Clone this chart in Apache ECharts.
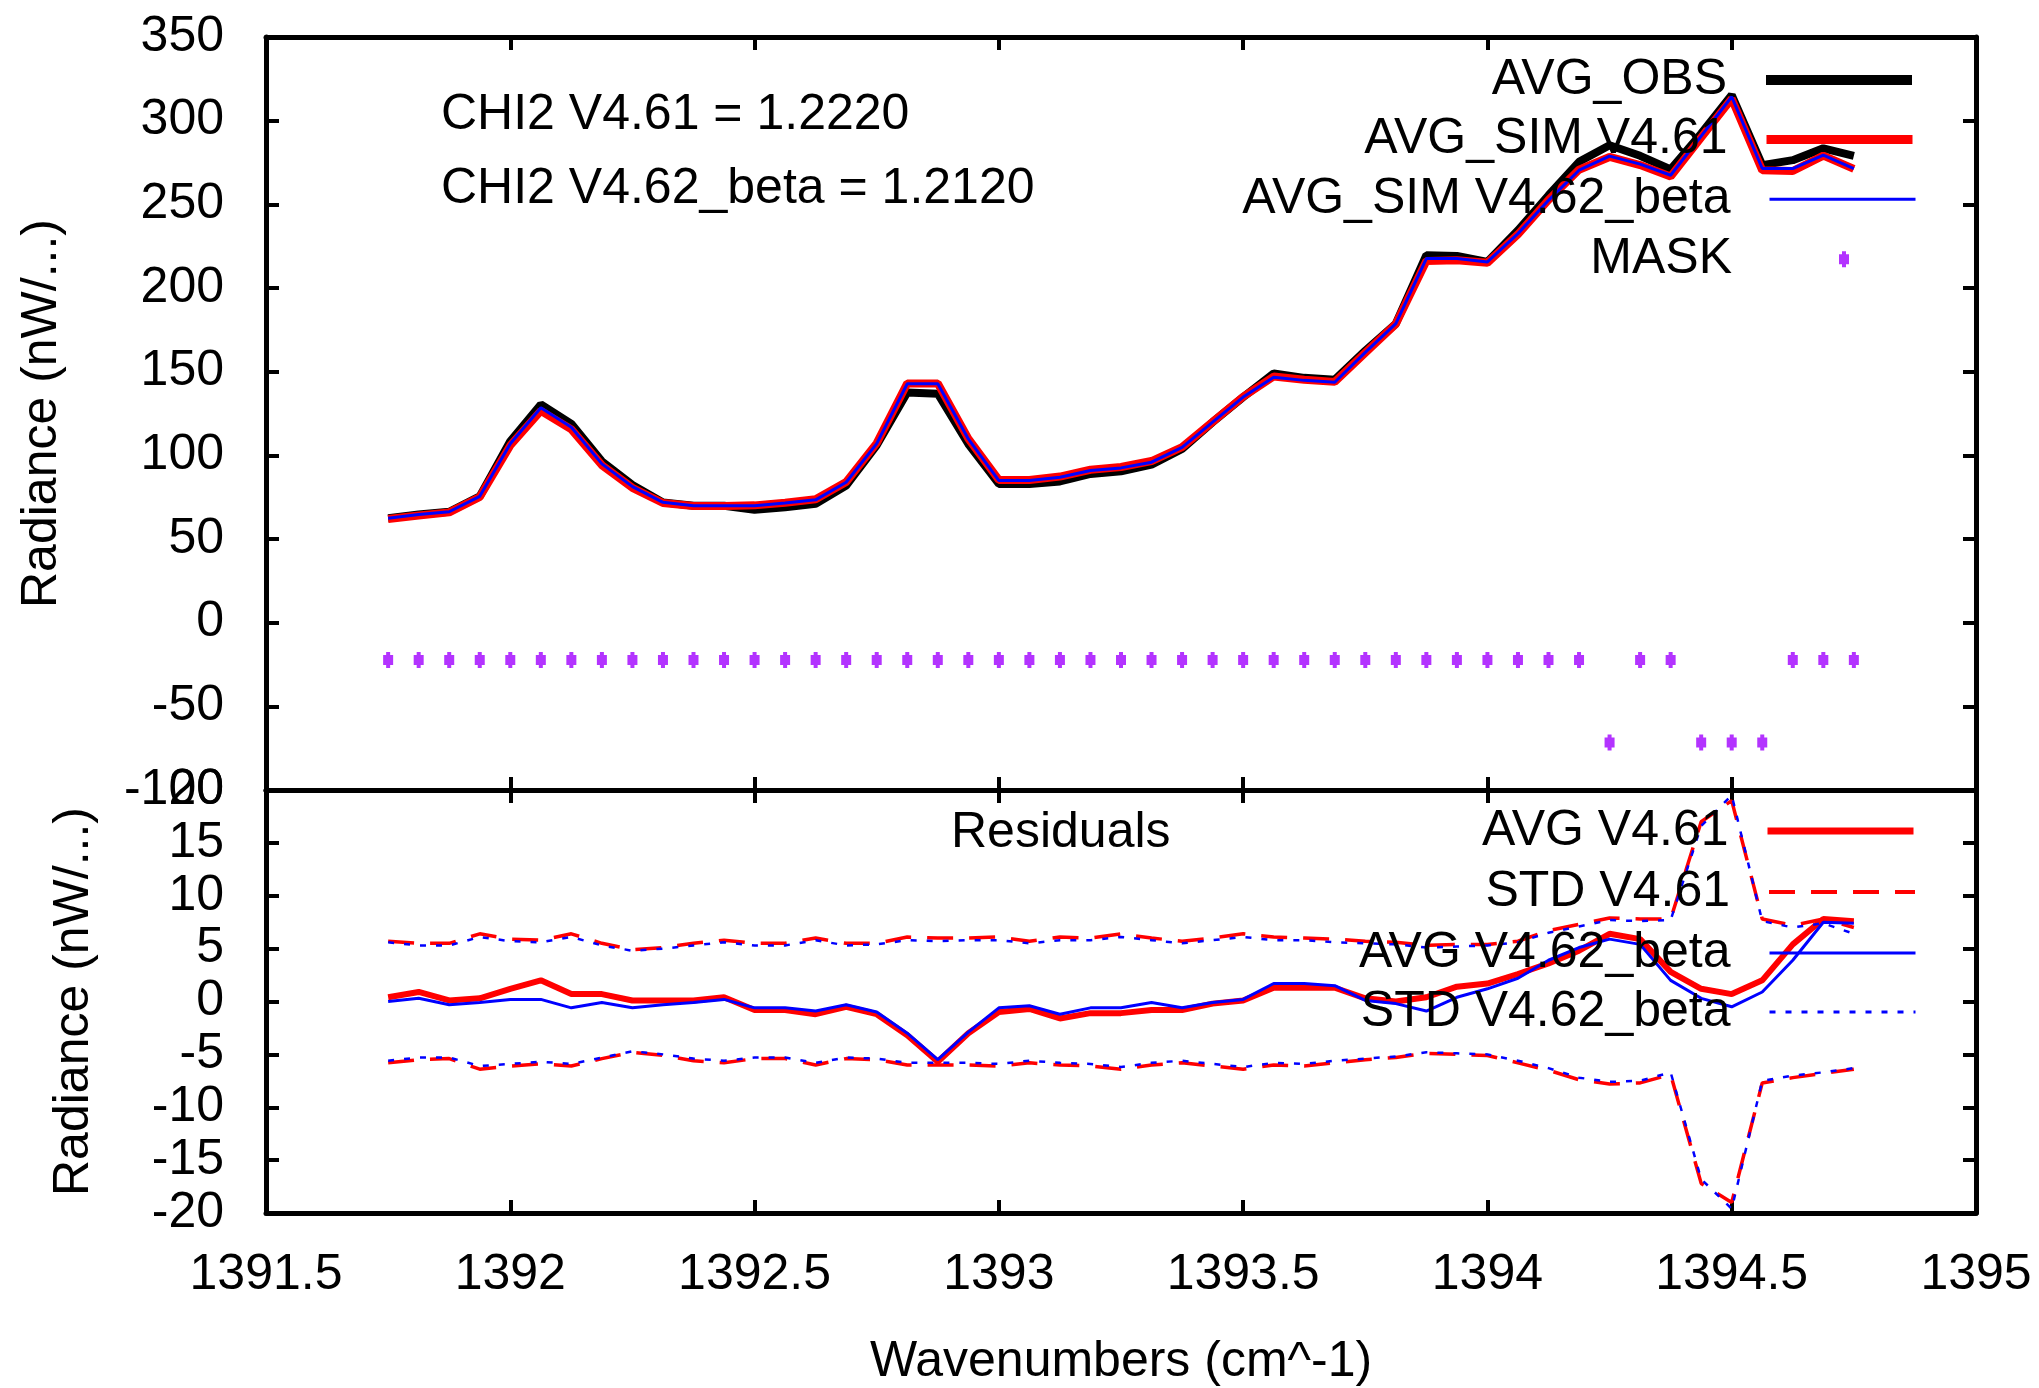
<!DOCTYPE html>
<html>
<head>
<meta charset="utf-8">
<script src="https://cdn.jsdelivr.net/npm/echarts@6/dist/echarts.min.js"></script>
<style>
html,body{margin:0;padding:0;background:#fff;}
#chart{width:2039px;height:1388px;}
</style>
</head>
<body>
<div id="chart"></div>
<script>
// ---------------- DATA ----------------
const wavenumbers = [1391.75, 1391.8125, 1391.875, 1391.9375, 1392.0, 1392.0625, 1392.125, 1392.1875, 1392.25, 1392.3125,
  1392.375, 1392.4375, 1392.5, 1392.5625, 1392.625, 1392.6875, 1392.75, 1392.8125, 1392.875, 1392.9375,
  1393.0, 1393.0625, 1393.125, 1393.1875, 1393.25, 1393.3125, 1393.375, 1393.4375, 1393.5, 1393.5625,
  1393.625, 1393.6875, 1393.75, 1393.8125, 1393.875, 1393.9375, 1394.0, 1394.0625, 1394.125, 1394.1875,
  1394.25, 1394.3125, 1394.375, 1394.4375, 1394.5, 1394.5625, 1394.625, 1394.6875, 1394.75];

const avgObs = [62.4, 64.6, 66.3, 75.5, 108.4, 130.4, 118.8, 96.4, 82.3, 71.9,
  69.9, 69.9, 67.4, 69.0, 71.0, 81.9, 106.0, 137.5, 136.8, 106.8,
  82.9, 82.9, 84.4, 88.9, 90.5, 94.4, 103.8, 119.8, 134.8, 148.9,
  146.3, 145.2, 162.5, 178.7, 219.6, 219.1, 215.6, 234.5, 255.4, 275.4,
  285.3, 279.0, 270.9, 292.3, 315.3, 273.4, 276.4, 283.5, 279.0];

const avgSimV461 = [62.0, 64.0, 65.9, 75.1, 105.9, 126.6, 115.5, 94.1, 80.6, 71.5,
  69.7, 69.7, 70.1, 71.7, 73.7, 84.1, 107.3, 143.0, 143.0, 110.0,
  85.3, 85.2, 87.3, 91.4, 93.0, 96.6, 104.9, 120.0, 135.0, 147.1,
  145.2, 143.9, 161.3, 178.5, 216.2, 216.6, 215.1, 232.1, 252.7, 270.7,
  278.3, 273.5, 266.6, 289.9, 313.1, 270.3, 269.9, 279.1, 271.2];

const avgSimV462 = [62.4, 64.6, 66.3, 75.5, 106.9, 128.4, 116.8, 94.9, 81.3, 71.9,
  69.9, 69.9, 69.9, 71.5, 73.4, 83.9, 107.0, 142.8, 142.8, 109.8,
  84.9, 84.9, 86.9, 90.9, 92.5, 95.9, 104.8, 119.8, 134.8, 146.7,
  144.8, 143.7, 161.5, 178.7, 217.6, 217.6, 215.6, 232.5, 252.4, 270.4,
  278.8, 274.0, 267.4, 290.8, 314.3, 271.4, 271.4, 279.4, 271.4];

const mask = [-22.3, -22.3, -22.3, -22.3, -22.3, -22.3, -22.3, -22.3, -22.3, -22.3,
  -22.3, -22.3, -22.3, -22.3, -22.3, -22.3, -22.3, -22.3, -22.3, -22.3,
  -22.3, -22.3, -22.3, -22.3, -22.3, -22.3, -22.3, -22.3, -22.3, -22.3,
  -22.3, -22.3, -22.3, -22.3, -22.3, -22.3, -22.3, -22.3, -22.3, -22.3,
  -71.6, -22.3, -22.3, -71.6, -71.6, -71.6, -22.3, -22.3, -22.3];

const resAvgV461 = [0.4, 0.9, 0.1, 0.3, 1.2, 2.0, 0.7, 0.7, 0.1, 0.1,
  0.1, 0.4, -0.8, -0.8, -1.2, -0.5, -1.2, -3.2, -5.7, -3.0,
  -1.0, -0.7, -1.6, -1.1, -1.1, -0.8, -0.8, -0.2, 0.1, 1.3,
  1.3, 1.3, 0.3, 0.0, 0.4, 1.4, 1.7, 2.6, 3.6, 4.8,
  6.4, 5.9, 2.8, 1.2, 0.7, 2.0, 5.4, 7.8, 7.6];

const resStdV461Up = [5.7, 5.5, 5.5, 6.4, 5.9, 5.8, 6.4, 5.5, 4.9, 5.1,
  5.5, 5.8, 5.5, 5.5, 6.0, 5.5, 5.5, 6.1, 6.0, 6.0,
  6.1, 5.7, 6.1, 6.0, 6.4, 6.0, 5.7, 6.0, 6.4, 6.1,
  6.0, 5.9, 5.7, 5.6, 5.3, 5.4, 5.4, 5.7, 6.7, 7.3,
  7.9, 7.8, 7.8, 17.0, 19.0, 7.8, 7.2, 7.8, 7.0];

const resStdV461Lo = [-5.8, -5.5, -5.4, -6.4, -6.1, -5.9, -6.1, -5.4, -4.8, -5.1,
  -5.6, -5.8, -5.4, -5.4, -6.0, -5.4, -5.5, -6.0, -6.0, -6.0,
  -6.1, -5.8, -6.0, -6.1, -6.4, -6.0, -5.8, -6.1, -6.4, -6.0,
  -6.1, -5.8, -5.5, -5.3, -4.9, -5.0, -5.1, -5.8, -6.5, -7.4,
  -7.8, -7.7, -6.9, -17.2, -19.0, -7.7, -7.2, -6.8, -6.4];

const resAvgV462 = [0.0, 0.3, -0.3, -0.1, 0.2, 0.2, -0.6, -0.1, -0.6, -0.3,
  -0.1, 0.2, -0.6, -0.6, -0.9, -0.3, -1.0, -3.0, -5.5, -2.9,
  -0.6, -0.4, -1.2, -0.6, -0.6, -0.1, -0.6, -0.1, 0.2, 1.7,
  1.7, 1.5, 0.1, -0.2, -0.9, 0.4, 1.2, 2.2, 3.9, 5.1,
  5.9, 5.4, 2.0, 0.3, -0.5, 0.9, 3.9, 7.5, 7.4];

const resStdV462Up = [5.6, 5.3, 5.3, 6.1, 5.7, 5.6, 6.1, 5.3, 4.8, 5.0,
  5.3, 5.6, 5.3, 5.3, 5.8, 5.3, 5.4, 5.8, 5.7, 5.8,
  5.8, 5.5, 5.8, 5.8, 6.1, 5.8, 5.5, 5.8, 6.1, 5.8,
  5.8, 5.6, 5.5, 5.4, 5.1, 5.2, 5.3, 5.6, 6.5, 7.1,
  7.7, 7.6, 7.7, 16.6, 19.5, 7.6, 7.0, 7.4, 6.4];

const resStdV462Lo = [-5.6, -5.3, -5.3, -6.1, -5.9, -5.7, -5.9, -5.3, -4.7, -5.0,
  -5.4, -5.6, -5.3, -5.3, -5.8, -5.3, -5.4, -5.8, -5.8, -5.8,
  -5.9, -5.6, -5.8, -5.9, -6.2, -5.8, -5.6, -5.9, -6.2, -5.8,
  -5.9, -5.6, -5.4, -5.2, -4.8, -4.9, -5.0, -5.6, -6.3, -7.2,
  -7.6, -7.5, -6.7, -16.8, -19.6, -7.5, -7.0, -6.7, -6.3];

const chi2Labels = ['CHI2 V4.61 = 1.2220', 'CHI2 V4.62_beta = 1.2120'];
const xRange = [1391.5, 1395, 0.5];
const yTopRange = [-100, 350, 50];
const yBotRange = [-20, 20, 5];

// ---------------- CHART ----------------
const FONT = 'Liberation Sans';
const pairs = (ys) => wavenumbers.map((x, i) => [x, ys[i]]);

const chart = echarts.init(document.getElementById('chart'), null, {renderer: 'canvas'});

const frameLine = {show: true, onZero: false, lineStyle: {color: '#000', width: 5}};
const tick = {show: true, inside: true, length: 13, lineStyle: {color: '#000', width: 4}};
const lbl = {fontFamily: FONT, fontSize: 50, color: '#000'};

function xAx(grid, pos, showLabel, extra) {
  return Object.assign({
    type: 'value', gridIndex: grid, position: pos,
    min: xRange[0], max: xRange[1], interval: xRange[2],
    axisLine: frameLine, axisTick: tick, splitLine: {show: false},
    axisLabel: Object.assign({show: showLabel, margin: 37, formatter: v => String(+v.toFixed(1))}, lbl)
  }, extra || {});
}
function yAx(grid, pos, range, showLabel, extra) {
  return Object.assign({
    type: 'value', gridIndex: grid, position: pos,
    min: range[0], max: range[1], interval: range[2],
    axisLine: frameLine, axisTick: tick, splitLine: {show: false},
    axisLabel: Object.assign({show: showLabel, margin: 42, formatter: v => String(v)}, lbl)
  }, extra || {});
}

const maskSymbol = 'path://M3,0H7V3H10V13H7V16H3V13H0V3H3Z';

function lg(name, cy, right, w, h, padR, lineStyle) {
  const o = {
    data: [name], orient: 'horizontal', align: 'right', selectedMode: false,
    right: right, top: cy - 25, itemWidth: w, itemHeight: h, padding: 0,
    textStyle: {fontFamily: FONT, fontSize: 50, color: '#000', lineHeight: 50, padding: [0, padR, 0, 0]}
  };
  if (lineStyle) { o.lineStyle = lineStyle; o.itemStyle = {opacity: 0}; }
  return o;
}

const option = {
  animation: false,
  backgroundColor: '#fff',
  grid: [
    {left: 266, right: 63, top: 37, height: 753},
    {left: 266, right: 63, top: 790, height: 426}
  ],
  xAxis: [
    xAx(0, 'bottom', false),
    xAx(0, 'top', false),
    xAx(1, 'bottom', true, {name: 'Wavenumbers (cm^-1)', nameLocation: 'middle', nameGap: 124,
      nameTextStyle: {fontFamily: FONT, fontSize: 50, color: '#000'}}),
    xAx(1, 'top', false)
  ],
  yAxis: [
    yAx(0, 'left', yTopRange, true, {name: 'Radiance (nW/...)', nameLocation: 'middle', nameGap: 199,
      nameTextStyle: {fontFamily: FONT, fontSize: 50, color: '#000'}}),
    yAx(0, 'right', yTopRange, false),
    yAx(1, 'left', yBotRange, true, {name: 'Radiance (nW/...)', nameLocation: 'middle', nameGap: 167,
      nameTextStyle: {fontFamily: FONT, fontSize: 50, color: '#000'}}),
    yAx(1, 'right', yBotRange, false)
  ],
  legend: [
    lg('AVG_OBS', 80, 122, 146, 10, 34, {color: '#000', width: 10, type: 'solid'}),
    lg('AVG_SIM V4.61', 139.5, 122, 146, 10, 34, {color: '#ff0000', width: 9, type: 'solid'}),
    lg('AVG_SIM V4.62_beta', 199.3, 122, 146, 10, 34, {color: '#0000ff', width: 3, type: 'solid'}),
    lg('MASK', 259.3, 190, 10, 16, 102, null),
    lg('AVG V4.61', 831, 122, 146, 10, 34, {color: '#ff0000', width: 7, type: 'solid'}),
    lg('STD V4.61', 892, 122, 146, 10, 34, {color: '#ff0000', width: 4, type: [26, 16]}),
    lg('AVG V4.62_beta', 953, 122, 146, 10, 34, {color: '#0000ff', width: 3, type: 'solid'}),
    lg('STD V4.62_beta', 1012, 122, 146, 10, 34, {color: '#0000ff', width: 3, type: [6, 10]})
  ],
  graphic: [
    {type: 'text', x: 441, y: 115, style: {text: chi2Labels[0], font: '50px "Liberation Sans"', fill: '#000', align: 'left', verticalAlign: 'middle'}},
    {type: 'text', x: 441, y: 189, style: {text: chi2Labels[1], font: '50px "Liberation Sans"', fill: '#000', align: 'left', verticalAlign: 'middle'}},
    {type: 'text', x: 951, y: 833, style: {text: 'Residuals', font: '50px "Liberation Sans"', fill: '#000', align: 'left', verticalAlign: 'middle'}}
  ],
  series: [
    {name: 'AVG_OBS', type: 'line', xAxisIndex: 0, yAxisIndex: 0, data: pairs(avgObs), symbol: 'none',
      lineStyle: {color: '#000', width: 8}, itemStyle: {color: '#000'}, silent: true},
    {name: 'AVG_SIM V4.61', type: 'line', xAxisIndex: 0, yAxisIndex: 0, data: pairs(avgSimV461), symbol: 'none',
      lineStyle: {color: '#ff0000', width: 8}, itemStyle: {color: '#ff0000'}, silent: true},
    {name: 'AVG_SIM V4.62_beta', type: 'line', xAxisIndex: 0, yAxisIndex: 0, data: pairs(avgSimV462), symbol: 'none',
      lineStyle: {color: '#0000ff', width: 3}, itemStyle: {color: '#0000ff'}, silent: true},
    {name: 'MASK', type: 'scatter', xAxisIndex: 0, yAxisIndex: 0, data: pairs(mask), symbol: maskSymbol,
      symbolSize: [10, 16], itemStyle: {color: '#a000ff'}, silent: true},
    {name: 'AVG V4.61', type: 'line', xAxisIndex: 2, yAxisIndex: 2, data: pairs(resAvgV461), symbol: 'none',
      lineStyle: {color: '#ff0000', width: 6}, itemStyle: {color: '#ff0000'}, silent: true},
    {name: 'STD V4.61', type: 'line', xAxisIndex: 2, yAxisIndex: 2, data: pairs(resStdV461Up), symbol: 'none',
      lineStyle: {color: '#ff0000', width: 3.5, type: [26, 16]}, itemStyle: {color: '#ff0000'}, silent: true},
    {name: 'STD V4.61', type: 'line', xAxisIndex: 2, yAxisIndex: 2, data: pairs(resStdV461Lo), symbol: 'none',
      lineStyle: {color: '#ff0000', width: 3.5, type: [26, 16]}, itemStyle: {color: '#ff0000'}, silent: true},
    {name: 'AVG V4.62_beta', type: 'line', xAxisIndex: 2, yAxisIndex: 2, data: pairs(resAvgV462), symbol: 'none',
      lineStyle: {color: '#0000ff', width: 3}, itemStyle: {color: '#0000ff'}, silent: true},
    {name: 'STD V4.62_beta', type: 'line', xAxisIndex: 2, yAxisIndex: 2, data: pairs(resStdV462Up), symbol: 'none',
      lineStyle: {color: '#0000ff', width: 2.5, type: [6, 10]}, itemStyle: {color: '#0000ff'}, silent: true},
    {name: 'STD V4.62_beta', type: 'line', xAxisIndex: 2, yAxisIndex: 2, data: pairs(resStdV462Lo), symbol: 'none',
      lineStyle: {color: '#0000ff', width: 2.5, type: [6, 10]}, itemStyle: {color: '#0000ff'}, silent: true}
  ]
};
chart.setOption(option);
</script>
</body>
</html>
